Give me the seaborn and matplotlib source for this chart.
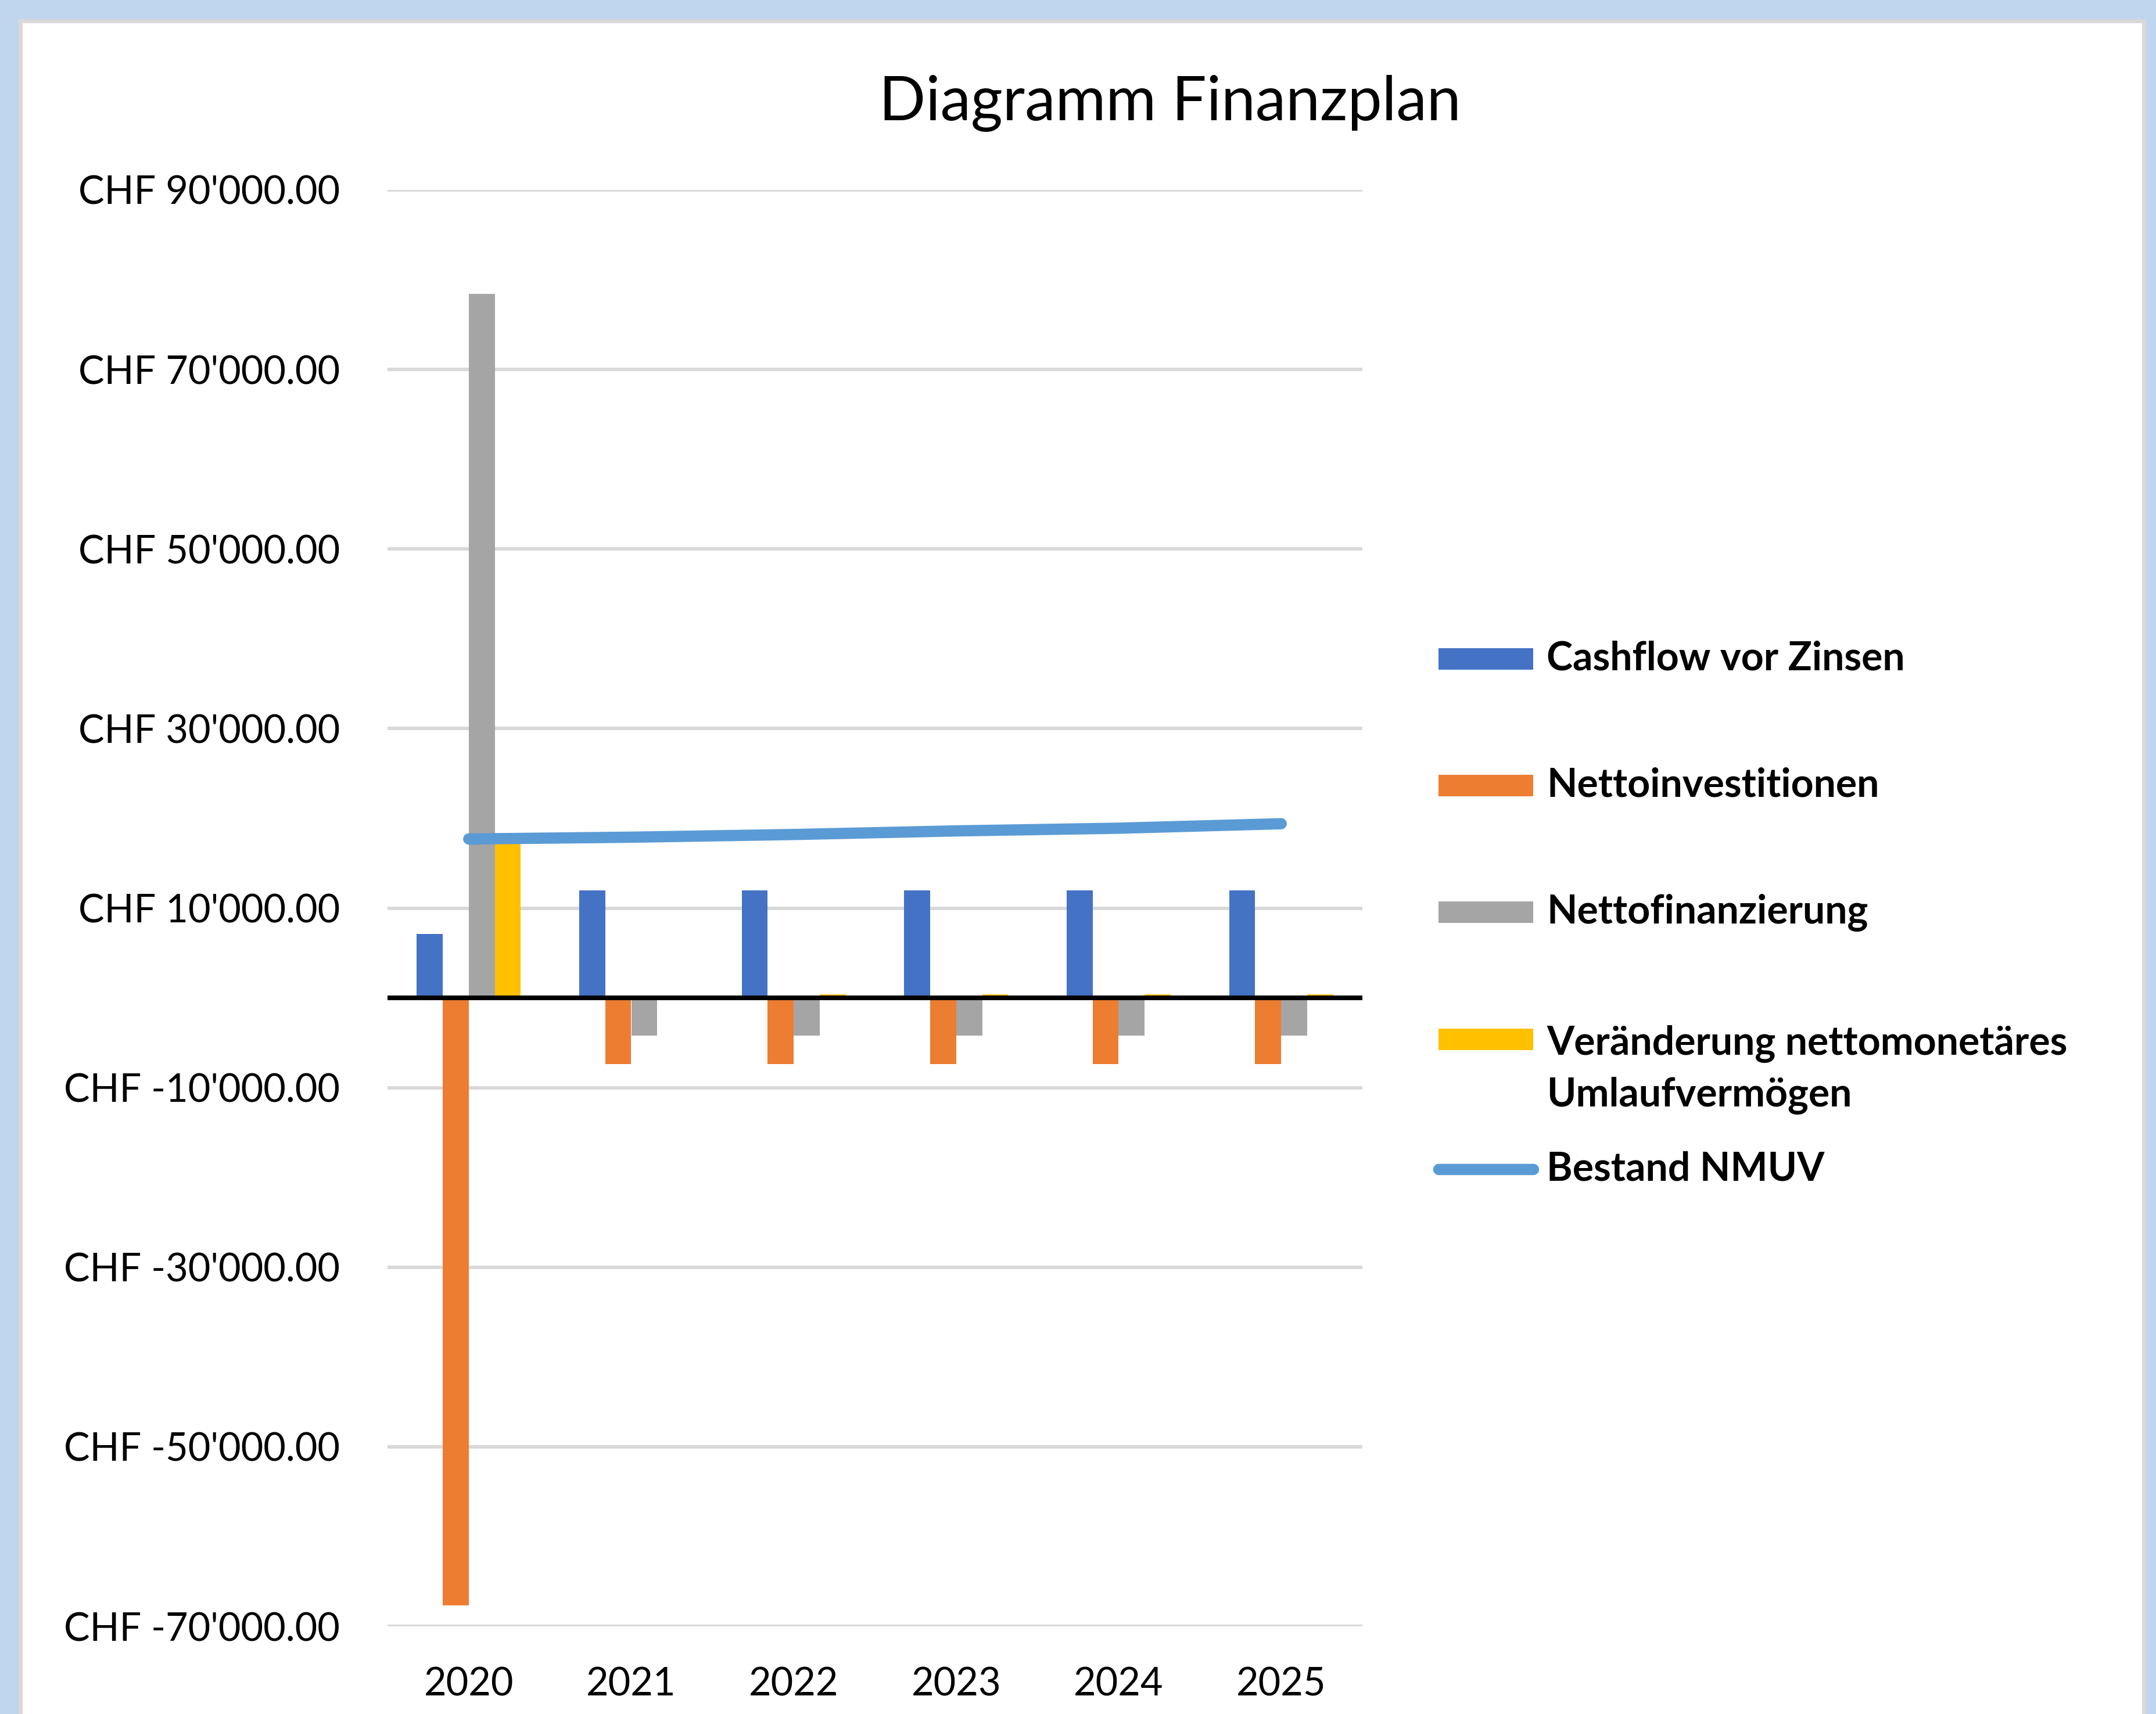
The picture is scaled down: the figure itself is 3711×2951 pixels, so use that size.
import numpy as np
import pandas as pd
import matplotlib
matplotlib.use("Agg")
import matplotlib.pyplot as plt
import seaborn as sns
from matplotlib.patches import Rectangle
from matplotlib.lines import Line2D
from matplotlib.ticker import FixedLocator, FuncFormatter

# --- data ---
years = ["2020", "2021", "2022", "2023", "2024", "2025"]
cashflow = [7100, 12000, 12000, 12000, 12000, 12000]
nettoinvest = [-67700, -7400, -7400, -7400, -7400, -7400]
nettofinanz = [78400, -4200, -4200, -4200, -4200, -4200]
veraenderung = [17600, 0, 400, 400, 400, 400]
bestand = [17700, 17900, 18200, 18600, 18900, 19400]

series_names = ["Cashflow vor Zinsen", "Nettoinvestitionen", "Nettofinanzierung",
                "Veränderung nettomonetäres\nUmlaufvermögen"]
line_name = "Bestand NMUV"
colors = ["#4472C4", "#ED7D31", "#A5A5A5", "#FFC000"]
line_color = "#5B9BD5"
y_ticks = [-70000, -50000, -30000, -10000, 10000, 30000, 50000, 70000, 90000]

df = pd.DataFrame({
    "Jahr": years * 4,
    "Serie": [s for s in series_names for _ in years],
    "Wert": cashflow + nettoinvest + nettofinanz + veraenderung,
})

sns.set_style("white")
plt.rcParams["font.family"] = ["Lato", "DejaVu Sans"]

W, H = 3711, 2951
fig = plt.figure(figsize=(W / 100, H / 100), dpi=100)
fig.patch.set_facecolor("#C0D6EE")

# white chart panel with thin grey border
fig.add_artist(Rectangle((35 / W, -0.02), (3690 - 35) / W, 1.02 - 36 / H,
                         transform=fig.transFigure, facecolor="white",
                         edgecolor="#D9D9D9", linewidth=5, zorder=0))

ax = fig.add_axes([667 / W, 1 - 2800 / H, (2345 - 667) / W, (2800 - 327) / H])
ax.set_facecolor("none")

sns.barplot(data=df, x="Jahr", y="Wert", hue="Serie", hue_order=series_names,
            palette=colors, width=0.64, gap=0, linewidth=0, saturation=1,
            legend=False, ax=ax, zorder=2)

sns.lineplot(x=np.arange(len(years)), y=bestand, color=line_color, linewidth=14,
             solid_capstyle="round", ax=ax, zorder=4)

ax.axhline(0, color="black", linewidth=5.8, zorder=3)

ax.set_ylim(-70000, 90000)
ax.set_xlim(-0.5, len(years) - 0.5)
ax.yaxis.set_major_locator(FixedLocator(y_ticks))
ax.yaxis.set_major_formatter(FuncFormatter(lambda v, p: "CHF " + f"{v:,.2f}".replace(",", "'")))
ax.set_xticks(range(len(years)))
ax.set_xticklabels(years)
ax.grid(axis="y", color="#D9D9D9", linewidth=4.3, zorder=0)
ax.set_axisbelow(True)
for sp in ax.spines.values():
    sp.set_visible(False)
ax.tick_params(axis="y", length=0, pad=59, labelsize=48, labelcolor="black")
ax.tick_params(axis="x", length=0, pad=50, labelsize=48, labelcolor="black")
ax.set_xlabel("")
ax.set_ylabel("")

fig.text(2014 / W, 1 - 178 / H, "Diagramm Finanzplan", ha="center", va="center",
         fontsize=76, color="black")

# legend (drawn by hand to mirror the Excel layout)
px0, px1 = 2476 / W, 2639 / W
ph = 37 / H
tx = 2662 / W
centers = [1134, 1352, 1571, 1790]
for c, name, yc in zip(colors, series_names, centers):
    fig.add_artist(Rectangle((px0, 1 - yc / H - ph / 2), px1 - px0, ph,
                             transform=fig.transFigure, facecolor=c, edgecolor="none"))
    if "\n" in name:
        fig.text(tx, 1 - (yc + 52) / H, name, ha="left", va="center", fontsize=49,
                 fontweight="bold", linespacing=1.47, color="black")
    else:
        fig.text(tx, 1 - yc / H, name, ha="left", va="center", fontsize=49,
                 fontweight="bold", color="black")
yl = 1 - 2013 / H
fig.add_artist(Line2D([2476 / W, 2639 / W], [yl, yl], transform=fig.transFigure,
                      color=line_color, linewidth=14, solid_capstyle="round"))
fig.text(tx, yl, line_name, ha="left", va="center", fontsize=49,
         fontweight="bold", color="black")

fig.savefig("out.png", dpi=100)
